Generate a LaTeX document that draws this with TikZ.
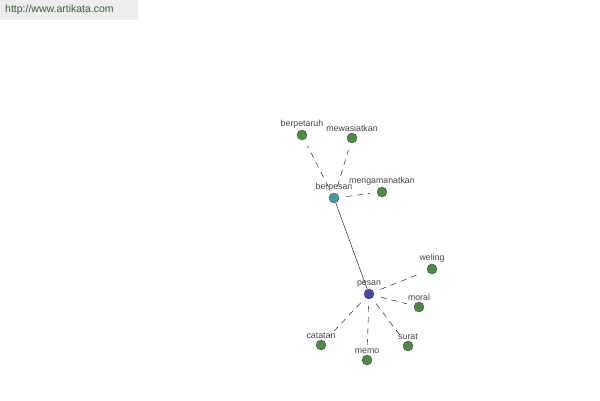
\documentclass[tikz,border=0pt]{standalone}
\usepackage{fontspec}
\setmainfont{Liberation Sans}
\usetikzlibrary{positioning}
\definecolor{leaf}{HTML}{4E8A45}
\definecolor{hub}{HTML}{4A9AA2}
\definecolor{core}{HTML}{4848A8}
\definecolor{txt}{HTML}{444444}
\definecolor{site}{HTML}{3F5A3F}

\begin{document}
\begin{tikzpicture}[
    x=1pt,
    y=-1pt,
    word/.style={circle, draw=black!70, thin, inner sep=0pt, minimum size=10pt},
    lbl/.style={font=\fontsize{8.8}{9}\selectfont, text=txt, inner sep=1pt},
    rel/.style={draw, dash pattern=on 6pt off 5pt, shorten >=7pt, shorten <=7pt},
    syn/.style={draw, thin}
]
\useasboundingbox (0,0) rectangle (600,400);

% --- site banner ---
\fill[black!7] (0,0) rectangle (138,20);
\node[font=\fontsize{10.5}{11}\selectfont, text=site, anchor=west, inner sep=0pt] (url) at (5,10) {http://www.artikata.com};

% --- main words ---
\node[word, fill=hub, label={[lbl]above:berpesan}] (berpesan) at (334,198) {};
\node[word, fill=core, label={[lbl]above:pesan}] (pesan) at (369,294) {};

% --- around berpesan ---
\node[word, fill=leaf, label={[lbl]above:berpetaruh}] (berpetaruh) at (302,135) {};
\node[word, fill=leaf, label={[lbl]above:mewasiatkan}] (mewasiatkan) at (352,138) {};
\node[word, fill=leaf, label={[lbl]above:mengamanatkan}] (mengamanatkan) at (382,192) {};

% --- around pesan ---
\node[word, fill=leaf, label={[lbl]above:weling}] (weling) at (432,269) {};
\node[word, fill=leaf, label={[lbl]above:moral}] (moral) at (419,307) {};
\node[word, fill=leaf, label={[lbl]above:surat}] (surat) at (408,346) {};
\node[word, fill=leaf, label={[lbl]above:memo}] (memo) at (367,360) {};
\node[word, fill=leaf, label={[lbl]above:catatan}] (catatan) at (321,345) {};

% --- links ---
\draw[syn] (berpesan) -- (pesan);

\draw[rel] (berpesan) -- (berpetaruh);
\draw[rel] (berpesan) -- (mewasiatkan);
\draw[rel] (berpesan) -- (mengamanatkan);

\draw[rel] (pesan) -- (weling);
\draw[rel] (pesan) -- (moral);
\draw[rel] (pesan) -- (surat);
\draw[rel] (pesan) -- (memo);
\draw[rel] (pesan) -- (catatan);
\end{tikzpicture}
\end{document}
